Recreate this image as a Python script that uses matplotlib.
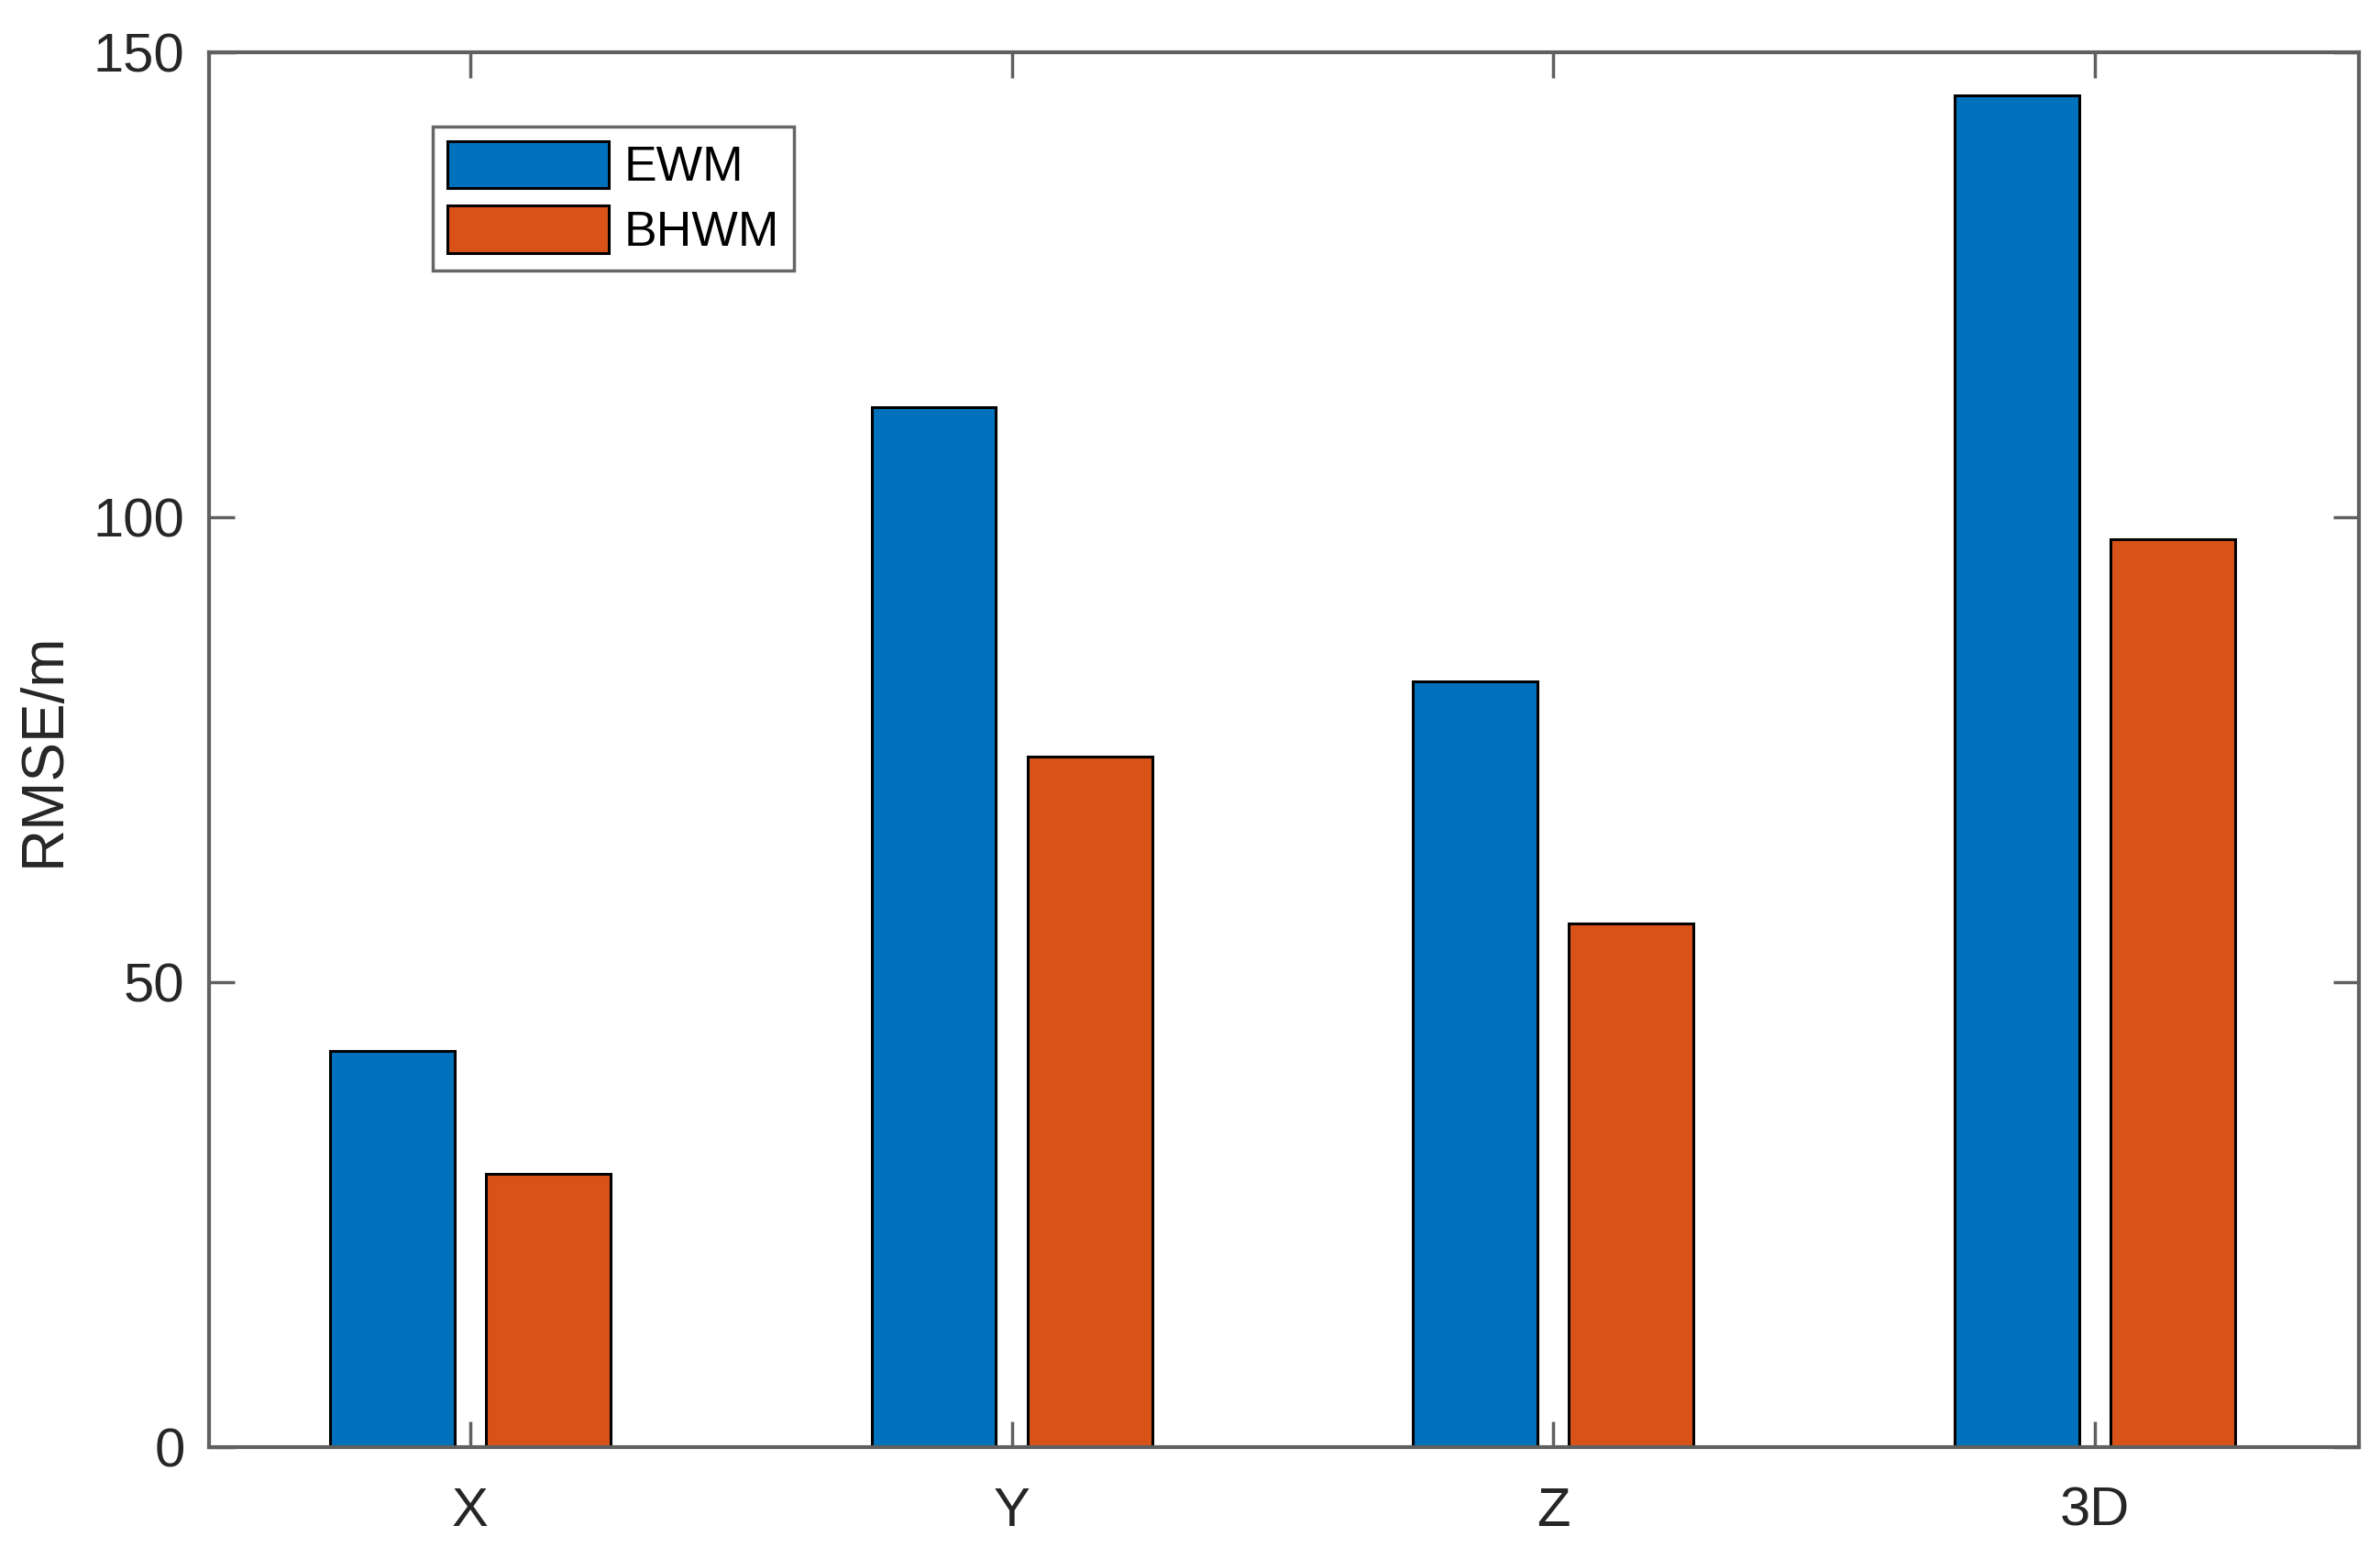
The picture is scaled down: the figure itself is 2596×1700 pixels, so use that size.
import matplotlib
matplotlib.use("Agg")
import matplotlib.pyplot as plt
import numpy as np

categories = ["X", "Y", "Z", "3D"]
series_names = ["EWM", "BHWM"]
ewm = [42.6, 111.8, 82.3, 145.4]
bhwm = [29.4, 74.3, 56.3, 97.6]
yticks = [0, 50, 100, 150]

plt.rcParams['font.family'] = ['Liberation Sans', 'DejaVu Sans']

fig = plt.figure(figsize=(25.96, 17), dpi=100)
ax = fig.add_axes([0.0878, 0.0718, 0.9911 - 0.0878, 0.9665 - 0.0718])

x = np.arange(1, len(categories) + 1)
w = 0.23
off = 0.144
ax.bar(x - off, ewm, width=w, color="#0072BD", edgecolor="black", linewidth=2.2, label=series_names[0])
ax.bar(x + off, bhwm, width=w, color="#D95319", edgecolor="black", linewidth=2.2, label=series_names[1])

ax.set_xlim(0.518, 4.487)
ax.set_ylim(0, 150)
ax.set_xticks(x)
ax.set_xticklabels(categories)
ax.set_yticks(yticks)

spine_c = "#606060"
for s in ax.spines.values():
    s.set_color(spine_c)
    s.set_linewidth(3)
ax.tick_params(direction="in", length=20, width=2.5, color=spine_c,
               top=True, right=True, labelsize=43, labelcolor="#262626", pad=19)
ax.tick_params(axis="x", pad=31)

ax.set_ylabel("RMSE/m", fontsize=46, color="#262626")
ax.yaxis.set_label_coords(-0.064, 0.5)

leg = ax.legend(loc="upper left", bbox_to_anchor=(0.1040, 0.947), borderaxespad=0,
                fontsize=38.5, frameon=True, fancybox=False, handlelength=3.3,
                handleheight=1.1, labelspacing=0.3, handletextpad=0.3,
                borderpad=0.3)
leg.get_frame().set_edgecolor("#404040")
leg.get_frame().set_linewidth(2.5)

fig.savefig("out.png", dpi=100, facecolor="white")
